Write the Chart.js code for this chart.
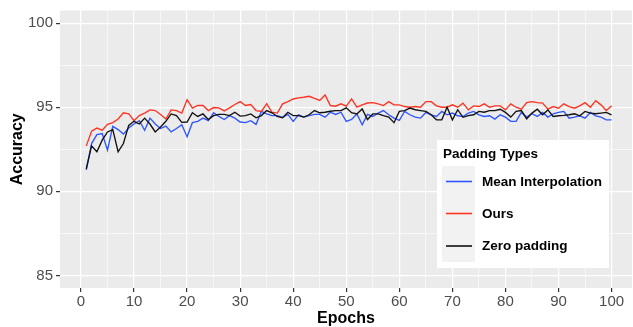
<!DOCTYPE html>
<html>
<head>
<meta charset="utf-8">
<script src="https://cdn.jsdelivr.net/npm/chart.js@4.4.0/dist/chart.umd.min.js"></script>
<style>
  html, body { margin: 0; padding: 0; background: #ffffff; }
  #wrap { position: relative; width: 633px; height: 327px; }
</style>
</head>
<body>
<div id="wrap"><canvas id="chart" width="633" height="327"></canvas></div>
<script>
'use strict';

/* ── data ─────────────────────────────────────────── */
const EPOCHS = [
  1, 2, 3, 4, 5, 6, 7, 8, 9, 10,
  11, 12, 13, 14, 15, 16, 17, 18, 19, 20,
  21, 22, 23, 24, 25, 26, 27, 28, 29, 30,
  31, 32, 33, 34, 35, 36, 37, 38, 39, 40,
  41, 42, 43, 44, 45, 46, 47, 48, 49, 50,
  51, 52, 53, 54, 55, 56, 57, 58, 59, 60,
  61, 62, 63, 64, 65, 66, 67, 68, 69, 70,
  71, 72, 73, 74, 75, 76, 77, 78, 79, 80,
  81, 82, 83, 84, 85, 86, 87, 88, 89, 90,
  91, 92, 93, 94, 95, 96, 97, 98, 99, 100
];

const MEAN_INTERP = [
  91.27, 92.84, 93.37, 93.43, 92.45, 93.86, 93.67, 93.40, 93.76, 94.00,
  94.20, 93.63, 94.35, 94.00, 93.73, 93.88, 93.53, 93.73, 93.96, 93.24,
  94.08, 94.16, 94.35, 94.20, 94.67, 94.45, 94.27, 94.50, 94.35, 94.12,
  94.08, 94.20, 93.98, 94.75, 94.60, 94.50, 94.50, 94.40, 94.57, 94.16,
  94.55, 94.41, 94.50, 94.57, 94.57, 94.41, 94.70, 94.57, 94.70, 94.16,
  94.27, 94.60, 93.96, 94.57, 94.45, 94.65, 94.80, 94.55, 94.35, 94.22,
  94.75, 94.55, 94.41, 94.35, 94.69, 94.55, 94.45, 94.75, 94.55, 94.65,
  94.49, 94.45, 94.65, 94.75, 94.55, 94.45, 94.49, 94.29, 94.55, 94.41,
  94.16, 94.16, 94.69, 94.41, 94.61, 94.45, 94.69, 94.41, 94.61, 94.69,
  94.75, 94.35, 94.41, 94.49, 94.35, 94.69, 94.49, 94.41, 94.25, 94.25
];

const OURS = [
  92.70, 93.57, 93.76, 93.63, 93.98, 94.08, 94.30, 94.67, 94.60, 94.20,
  94.50, 94.65, 94.84, 94.80, 94.57, 94.30, 94.84, 94.80, 94.65, 95.45,
  94.94, 95.10, 95.10, 94.80, 94.98, 94.96, 94.78, 94.96, 95.16, 95.33,
  95.10, 95.16, 94.80, 94.75, 95.20, 94.70, 94.65, 95.20, 95.33, 95.49,
  95.55, 95.59, 95.65, 95.53, 95.40, 95.73, 95.10, 95.06, 95.20, 95.06,
  95.49, 95.00, 95.14, 95.25, 95.27, 95.20, 95.10, 95.33, 95.14, 95.14,
  95.04, 95.00, 95.04, 95.00, 95.33, 95.33, 95.08, 95.00, 95.00, 95.14,
  95.00, 95.24, 94.84, 95.08, 95.04, 95.20, 95.00, 95.08, 95.08, 94.84,
  95.20, 95.00, 94.88, 95.27, 95.33, 95.27, 95.24, 94.88, 95.04, 94.94,
  95.20, 95.04, 94.94, 95.08, 95.27, 95.00, 95.39, 95.14, 94.80, 95.08
];

const ZERO_PAD = [
  91.33, 92.70, 92.35, 93.04, 93.53, 93.67, 92.35, 92.84, 93.92, 94.16,
  94.00, 94.35, 94.00, 93.53, 93.82, 94.16, 94.60, 94.50, 94.10, 94.12,
  94.67, 94.45, 94.60, 94.27, 94.50, 94.57, 94.57, 94.50, 94.70, 94.47,
  94.50, 94.60, 94.37, 94.50, 94.80, 94.67, 94.45, 94.37, 94.70, 94.50,
  94.50, 94.41, 94.55, 94.80, 94.67, 94.70, 94.76, 94.80, 94.80, 94.96,
  94.67, 94.60, 94.90, 94.27, 94.60, 94.60, 94.50, 94.41, 94.08, 94.75,
  94.80, 94.95, 94.85, 94.80, 94.75, 94.55, 94.25, 94.25, 95.00, 94.25,
  94.85, 94.40, 94.50, 94.55, 94.75, 94.70, 94.80, 94.80, 94.88, 94.69,
  94.41, 94.75, 94.80, 94.31, 94.65, 94.88, 94.55, 94.84, 94.45, 94.49,
  94.51, 94.55, 94.61, 94.49, 94.75, 94.65, 94.61, 94.65, 94.69, 94.55
];

const SERIES_NAMES = ['Mean Interpolation', 'Ours', 'Zero padding'];
const LEGEND_TITLE = 'Padding Types';

const X_MAJOR = [0, 10, 20, 30, 40, 50, 60, 70, 80, 90, 100];
const X_MINOR = [5, 15, 25, 35, 45, 55, 65, 75, 85, 95];
const Y_MAJOR = [85, 90, 95, 100];
const Y_MINOR = [87.5, 92.5, 97.5];

/* ── styling ──────────────────────────────────────── */
const FONT = '"Liberation Sans", Arial, Helvetica, sans-serif';
const COLORS = ['#2F55FF', '#FF3322', '#111111'];
const PANEL_BG = '#EBEBEB';

function toPoints(values) {
  return values.map((v, i) => ({ x: EPOCHS[i], y: v }));
}

// major + minor breaks, so the white grid looks like ggplot's
function gridTicks(major, minor) {
  return (axis) => {
    axis.ticks = [...major, ...minor].sort((a, b) => a - b).map(v => ({ value: v }));
  };
}

const isMajor = (list) => (ctx) => ctx.tick && list.includes(ctx.tick.value);

/* panel background like ggplot theme_gray */
const panelBackground = {
  id: 'panelBackground',
  beforeDraw(chart) {
    const { ctx, chartArea: a } = chart;
    ctx.save();
    ctx.fillStyle = PANEL_BG;
    ctx.fillRect(a.left, a.top, a.right - a.left, a.bottom - a.top);
    ctx.restore();
  }
};

/* legend drawn inside the panel, bottom right */
const insideLegend = {
  id: 'insideLegend',
  afterDraw(chart) {
    const ctx = chart.ctx;
    ctx.save();
    ctx.fillStyle = '#FFFFFF';
    ctx.fillRect(437, 140, 172, 128);
    ctx.fillStyle = '#F2F2F2';
    ctx.fillRect(442, 166, 33, 96);

    ctx.textBaseline = 'middle';
    ctx.textAlign = 'left';
    ctx.fillStyle = '#000000';
    ctx.font = 'bold 13.5px ' + FONT;
    ctx.fillText(LEGEND_TITLE, 443, 154);

    const rows = [181.5, 213.5, 246];
    SERIES_NAMES.forEach((name, i) => {
      ctx.strokeStyle = COLORS[i];
      ctx.lineWidth = 1.6;
      ctx.beginPath();
      ctx.moveTo(446, rows[i]);
      ctx.lineTo(472, rows[i]);
      ctx.stroke();
      ctx.fillStyle = '#000000';
      ctx.fillText(name, 482, rows[i] + 0.5);
    });
    ctx.restore();
  }
};

const seriesValues = [MEAN_INTERP, OURS, ZERO_PAD];

new Chart(document.getElementById('chart'), {
  type: 'line',
  data: {
    datasets: seriesValues.map((vals, i) => ({
      label: SERIES_NAMES[i],
      data: toPoints(vals),
      borderColor: COLORS[i],
      backgroundColor: COLORS[i],
      borderWidth: 1.35,
      pointRadius: 0,
      tension: 0,
      fill: false,
      order: 2 - i, // zero padding on top, as in the ggplot draw order
    })),
  },
  options: {
    responsive: false,
    animation: false,
    devicePixelRatio: 1,
    layout: { padding: { top: 7, right: 1, left: 0, bottom: 0 } },
    plugins: {
      legend: { display: false },
      tooltip: { enabled: false },
    },
    scales: {
      x: {
        type: 'linear',
        min: -3.95,
        max: 103.85,
        afterBuildTicks: gridTicks(X_MAJOR, X_MINOR),
        afterFit: (axis) => { axis.height = 39; },
        border: { display: false },
        grid: {
          color: '#FFFFFF',
          lineWidth: (ctx) => isMajor(X_MAJOR)(ctx) ? 1.2 : 0.6,
          tickColor: (ctx) => isMajor(X_MAJOR)(ctx) ? '#333333' : 'rgba(0,0,0,0)',
          tickLength: 4,
          drawTicks: true,
        },
        ticks: {
          autoSkip: false,
          maxRotation: 0,
          padding: 2,
          color: '#4D4D4D',
          font: { family: FONT, size: 15, lineHeight: 1 },
          callback: (v) => X_MAJOR.includes(v) ? String(v) : '',
        },
        title: {
          display: true,
          text: 'Epochs',
          color: '#000000',
          font: { family: FONT, size: 16, weight: 'bold', lineHeight: 1 },
          padding: { top: 0, bottom: 0 },
        },
      },
      y: {
        type: 'linear',
        min: 84.25,
        max: 100.75,
        afterBuildTicks: gridTicks(Y_MAJOR, Y_MINOR),
        afterFit: (axis) => { axis.width = 60; },
        border: { display: false },
        grid: {
          color: '#FFFFFF',
          lineWidth: (ctx) => isMajor(Y_MAJOR)(ctx) ? 1.2 : 0.6,
          tickColor: (ctx) => isMajor(Y_MAJOR)(ctx) ? '#333333' : 'rgba(0,0,0,0)',
          tickLength: 4,
          drawTicks: true,
        },
        ticks: {
          autoSkip: false,
          padding: 3,
          color: '#4D4D4D',
          font: { family: FONT, size: 15, lineHeight: 1 },
          callback: (v) => Y_MAJOR.includes(v) ? String(v) : '',
        },
        title: {
          display: true,
          text: 'Accuracy',
          color: '#000000',
          font: { family: FONT, size: 16, weight: 'bold', lineHeight: 1 },
          padding: { top: 10, bottom: 0 },
        },
      },
    },
  },
  plugins: [panelBackground, insideLegend],
});
</script>
</body>
</html>
